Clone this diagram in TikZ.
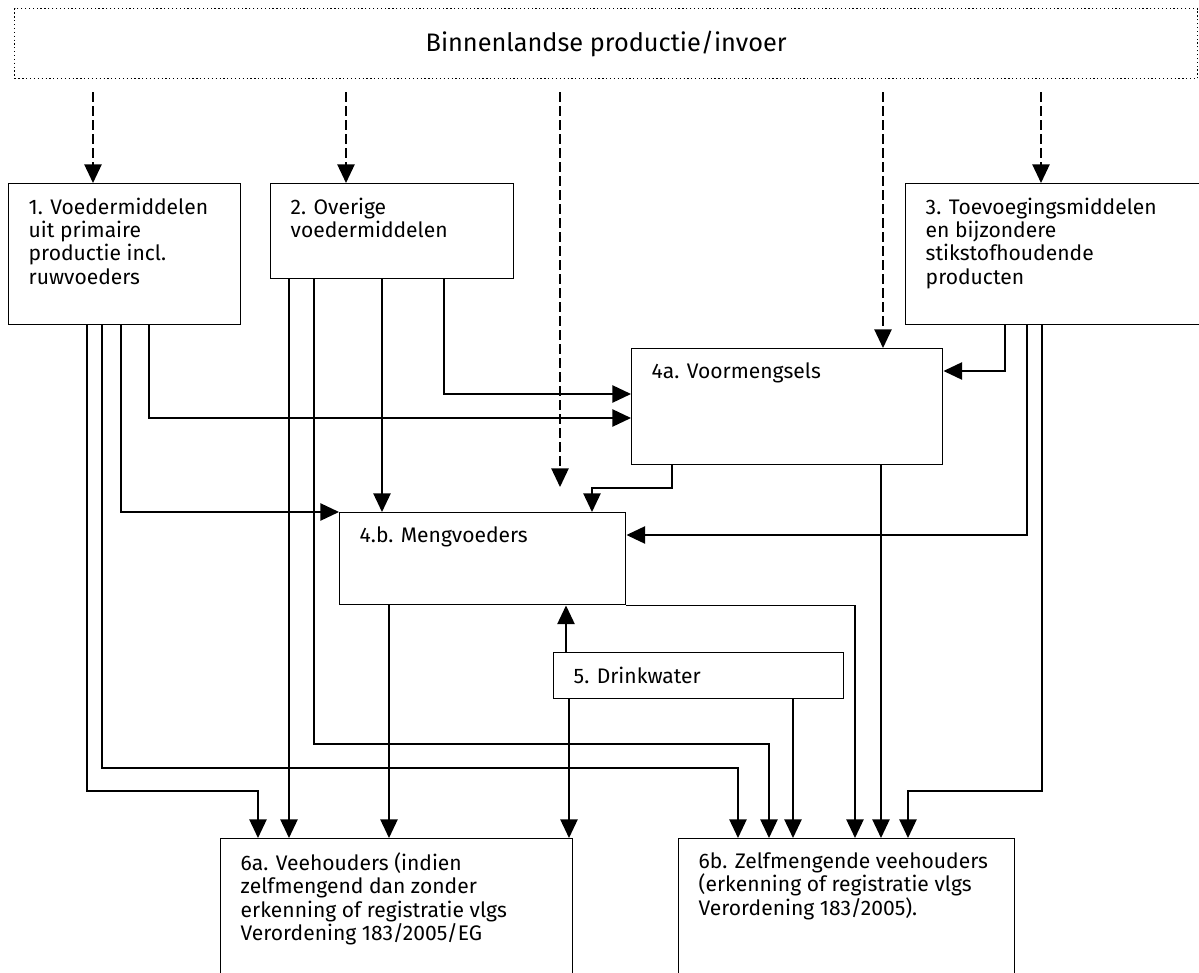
\documentclass[tikz,border=0pt]{standalone}
\usepackage{fontspec}
\setmainfont{Fira Sans}
\usetikzlibrary{arrows.meta}

\newdimen\px \px=0.75pt
\newcommand{\bloktekst}[3]{\parbox[t][\dimexpr#2\px-28\px\relax][t]{\dimexpr#1\px-40\px\relax}{#3}}

\tikzset{
  bron/.style={draw, dotted, line width=0.9pt, anchor=north west,
    minimum width=1183\px, minimum height=70\px, font=\fontsize{19}{23}\selectfont},
  blok/.style={draw, line width=1.1pt, anchor=north west, inner xsep=20\px,
    inner ysep=14\px, font=\fontsize{15.8}{17.5}\selectfont},
  pijl/.style={-{Triangle[length=14pt,width=13pt]}, line width=1.1pt},
  stippel/.style={pijl, dash pattern=on 7pt off 3.5pt, shorten <=13\px},
}

\begin{document}
\begin{tikzpicture}[x=0.75pt, y=-0.75pt]
  \clip (0,0) rectangle (1199,973);
  \node[bron] (bron) at (14,8) {Binnenlandse productie/invoer};
  \node[blok] (b1) at (8,183) {\bloktekst{232}{141}{1. Voedermiddelen\\uit primaire\\productie incl.\\ruwvoeders}};
  \node[blok] (b2) at (270,183) {\bloktekst{243}{95}{2. Overige\\voedermiddelen}};
  \node[blok] (b3) at (905,183) {\bloktekst{320}{141}{3. Toevoegingsmiddelen\\en bijzondere\\stikstofhoudende\\producten}};
  \node[blok] (b4a) at (631,348) {\bloktekst{311}{116}{4a. Voormengsels}};
  \node[blok] (b4b) at (339,512) {\bloktekst{286}{92}{4.b. Mengvoeders}};
  \node[blok] (b5) at (553,652) {\bloktekst{290}{46}{5. Drinkwater}};
  \node[blok] (b6a) at (220,838) {\bloktekst{352}{160}{6a. Veehouders (indien\\zelfmengend dan zonder\\erkenning of registratie vlgs\\Verordening 183/2005/EG}};
  \node[blok] (b6b) at (678,838) {\bloktekst{336}{160}{6b. Zelfmengende veehouders\\(erkenning of registratie vlgs\\Verordening 183/2005).}};
  \coordinate (vrij) at (560,487);

  % aanvoer
  \begin{scope}[stippel]
    \draw (bron.south -| 93,0) to (b1.north -| 93,0);
    \draw (bron.south -| 346,0) to (b2.north -| 346,0);
    \draw (bron.south -| vrij) to (vrij);
    \draw (bron.south -| 883,0) to (b4a.north -| 883,0);
    \draw (bron.south -| 1041,0) to (b3.north -| 1041,0);
  \end{scope}

  \begin{scope}[pijl]
    % 1
    \draw (b1.south -| 87,0) |- (258,791) to (b6a.north -| 258,0);
    \draw (b1.south -| 102,0) |- (738,768) to (b6b.north -| 738,0);
    \draw (b1.south -| 121,0) |- (b4b.north west);
    \draw (b1.south -| 149,0) |- (b4a.west |- 0,418);
    % 2
    \draw (b2.south -| 289,0) to (b6a.north -| 289,0);
    \draw (b2.south -| 314,0) |- (769,744) to (b6b.north -| 769,0);
    \draw (b2.south -| 382,0) to (b4b.north -| 382,0);
    \draw (b2.south -| 444,0) |- (b4a.west |- 0,394);
    % 3
    \draw (b3.south -| 1005,0) |- (b4a.east |- 0,371);
    \draw (b3.south -| 1027,0) |- (b4b.east |- 0,535);
    \draw (b3.south -| 1042,0) |- (908,791) to (b6b.north -| 908,0);
    % 4a en 4b
    \draw (b4a.south -| 672,0) |- (592,488) to (b4b.north -| 592,0);
    \draw (b4a.south -| 881,0) to (b6b.north -| 881,0);
    \draw (b4b.south -| 389,0) to (b6a.north -| 389,0);
    \draw (b4b.south east) -| (b6b.north -| 855,0);
    % 5
    \draw (b5.north -| 566,0) to (b4b.south -| 566,0);
    \draw (b5.south -| 569,0) to (b6a.north -| 569,0);
    \draw (b5.south -| 793,0) to (b6b.north -| 793,0);
  \end{scope}
\end{tikzpicture}
\end{document}
